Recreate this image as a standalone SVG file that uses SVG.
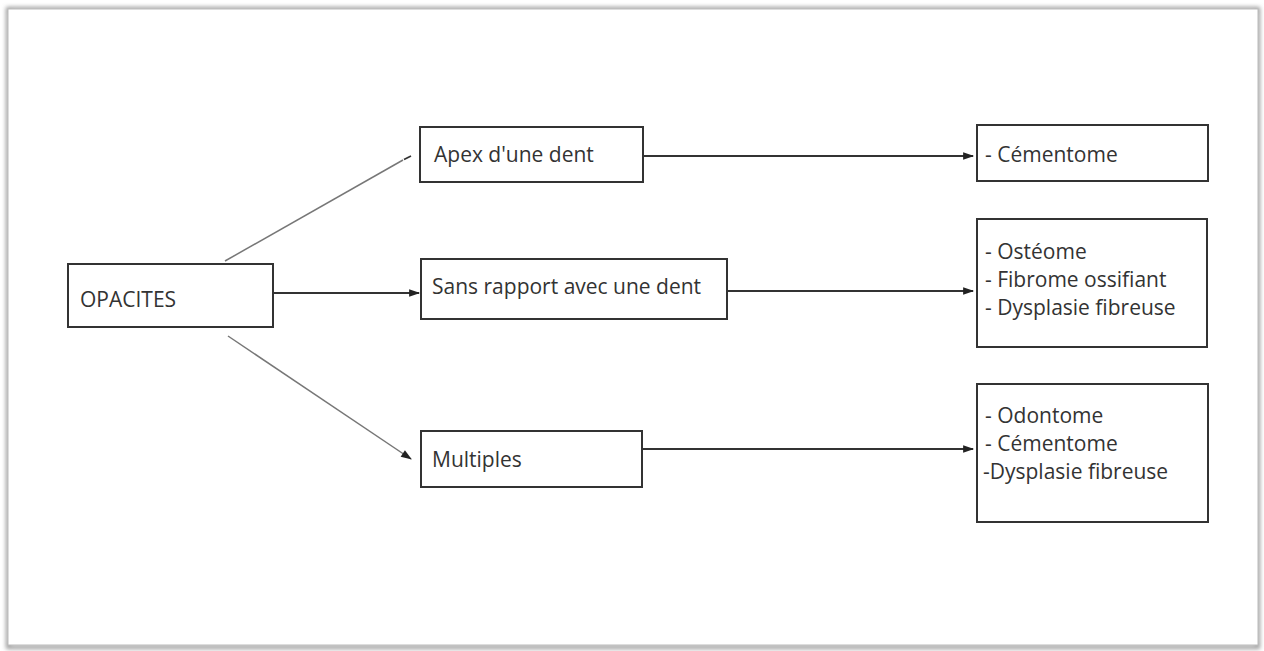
<svg xmlns="http://www.w3.org/2000/svg" width="1264" height="651" viewBox="0 0 1264 651">
<style>
.box{fill:#fff;stroke:#333;stroke-width:2}
.t{font-family:"Open Sans","Noto Sans",sans-serif;font-size:21px;fill:#333}
.c{stroke:#333;stroke-width:1.8;fill:none}
.cl{stroke:#777;stroke-width:1.5;fill:none}
</style>
<defs>
<marker id="ah" viewBox="0 0 10 10" refX="9" refY="5" markerWidth="11" markerHeight="11" orient="auto" markerUnits="userSpaceOnUse" overflow="visible">
<path d="M0,1.5 L10,5 L0,8.5 z" fill="#222"/>
</marker>
<filter id="sh" x="-2%" y="-2%" width="104%" height="104%">
<feGaussianBlur stdDeviation="2"/>
</filter>
</defs>
<rect width="1264" height="651" fill="#fff"/>
<rect x="8" y="9" width="1250" height="638" fill="none" stroke="#999" stroke-width="4" filter="url(#sh)"/>
<rect x="8" y="9" width="1250" height="636" fill="#fff" stroke="#bbb" stroke-width="1"/>
<g id="connectors">
<path class="cl" d="M225,261 L403,160"/>
<path class="c" d="M404,159.5 L411,156" stroke-width="2.5"/>
<path class="c" d="M273,293 L419,293" marker-end="url(#ah)"/>
<path class="cl" d="M228,336 L411,459" marker-end="url(#ah)"/>
<path class="c" d="M643,156 L973,156" marker-end="url(#ah)"/>
<path class="c" d="M727,291 L973,291" marker-end="url(#ah)"/>
<path class="c" d="M642,449 L973,449" marker-end="url(#ah)"/>
</g>
<g id="opacites"><rect class="box" x="68" y="264" width="205" height="63"/><text class="t" x="80" y="307">OPACITES</text></g>
<g id="apex"><rect class="box" x="420" y="127" width="223" height="55"/><text class="t" x="434" y="162">Apex d'une dent</text></g>
<g id="sans"><rect class="box" x="421" y="259" width="306" height="60"/><text class="t" x="432" y="294">Sans rapport avec une dent</text></g>
<g id="multiples"><rect class="box" x="421" y="431" width="221" height="56"/><text class="t" x="432" y="467">Multiples</text></g>
<g id="cementome"><rect class="box" x="977" y="125" width="231" height="56"/><text class="t" x="985" y="162">- Cémentome</text></g>
<g id="osteome"><rect class="box" x="977" y="219" width="230" height="128"/>
<text class="t" x="985" y="259">- Ostéome</text>
<text class="t" x="985" y="287">- Fibrome ossifiant</text>
<text class="t" x="985" y="315">- Dysplasie fibreuse</text></g>
<g id="odontome"><rect class="box" x="977" y="384" width="231" height="138"/>
<text class="t" x="985" y="423">- Odontome</text>
<text class="t" x="985" y="451">- Cémentome</text>
<text class="t" x="983" y="479">-Dysplasie fibreuse</text></g>
</svg>
